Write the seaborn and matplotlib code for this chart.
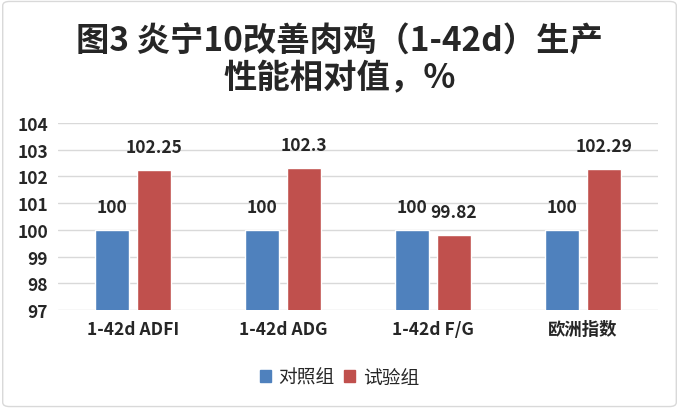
import pandas as pd
import seaborn as sns
import matplotlib.pyplot as plt
from matplotlib.patches import FancyBboxPatch

categories = ['1-42d ADFI', '1-42d ADG', '1-42d F/G', '欧洲指数']
control = [100, 100, 100, 100]
trial = [102.25, 102.3, 99.82, 102.29]
groups = ['对照组', '试验组']
colors = ['#4F81BD', '#C0504D']

df = pd.DataFrame({
    'cat': categories * 2,
    'group': [groups[0]] * 4 + [groups[1]] * 4,
    'value': control + trial,
})

sns.set_theme(style='white')
plt.rcParams['font.family'] = ['Noto Sans CJK SC', 'DejaVu Sans']

fig = plt.figure(figsize=(6.79, 4.10), dpi=100)
ax = fig.add_axes([0.085, 0.241, 0.884, 0.457])

sns.barplot(data=df, x='cat', y='value', hue='group', palette=colors,
            width=0.56, gap=0.2, saturation=1, ax=ax, legend=False)

ax.set_ylim(97, 104)
ax.set_xlim(-0.5, 3.5)
ax.set_yticks(range(97, 105))
ax.yaxis.grid(True, color='#D9D9D9', linewidth=1)
ax.set_axisbelow(True)
for s in ax.spines.values():
    s.set_visible(False)
ax.set_xlabel('')
ax.set_ylabel('')
ax.tick_params(axis='both', length=0, labelsize=12.5, pad=7)
for lab in ax.get_xticklabels() + ax.get_yticklabels():
    lab.set_fontweight('bold')

for c in ax.containers:
    ax.bar_label(c, fmt='%g', padding=10, fontsize=12.5, fontweight='bold')

fig.suptitle('图3 炎宁10改善肉鸡（1-42d）生产\n性能相对值，%', y=0.94, va='top',
             fontsize=24, fontweight='bold', linespacing=1.18)

handles = [plt.Rectangle((0, 0), 1, 1, color=c) for c in colors]
fig.legend(handles, groups, loc='center', bbox_to_anchor=(0.5, 0.077), ncol=2,
           frameon=False, fontsize=13.5, handlelength=0.6, handleheight=0.6,
           handletextpad=0.4, columnspacing=0.5)

fig.patches.append(FancyBboxPatch((0.004, 0.006), 0.992, 0.988,
                                  boxstyle='round,pad=0,rounding_size=0.01',
                                  transform=fig.transFigure, fill=False,
                                  edgecolor='#D9D9D9', linewidth=1))

fig.savefig('out.png', dpi=100)
